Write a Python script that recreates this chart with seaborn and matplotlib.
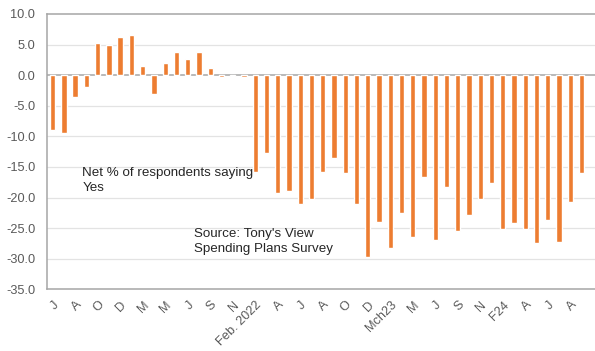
import matplotlib
matplotlib.use("Agg")
import matplotlib.pyplot as plt
import seaborn as sns
import pandas as pd

# Net % of respondents saying Yes, one value per survey period
net_yes = [
    -9.0, -9.4, -3.5, -2.0, 5.3, 5.0, 6.2, 6.5, 1.5, -3.0,
    2.0, 3.8, 2.7, 3.8, 1.1, -0.3, -0.2, -0.3, -15.8, -12.7,
    -19.3, -18.9, -21.0, -20.2, -15.8, -13.6, -16.0, -21.1, -29.7, -24.0,
    -28.3, -22.5, -26.4, -16.6, -27.0, -18.2, -25.5, -22.8, -20.3, -17.7,
    -25.1, -24.1, -25.1, -27.5, -23.7, -27.2, -20.7, -16.0,
]

# Labels shown under every second period
tick_labels = [
    "J", "A", "O", "D", "M", "M", "J", "S", "N", "Feb. 2022",
    "A", "J", "A", "O", "D", "Mch23", "M", "J", "S", "N",
    "F24", "A", "J", "A",
]

y_ticks = [10, 5, 0, -5, -10, -15, -20, -25, -30, -35]

df = pd.DataFrame({"period": list(range(len(net_yes))), "net": net_yes})

sns.set_style("white")
plt.rcParams["font.family"] = ["Liberation Sans", "DejaVu Sans"]

fig = plt.figure(figsize=(5.95, 3.51), dpi=100)
ax = fig.add_axes([47 / 595, 1 - 289.3 / 351, 1 - 47 / 595, (289.3 - 14) / 351])

sns.barplot(data=df, x="period", y="net", color="#ED7D31", saturation=1,
            width=0.47, ax=ax, zorder=3)

ax.set_ylim(-35, 10)
ax.set_xlim(-0.5, 48.2)
ax.set_yticks(y_ticks)
ax.set_yticklabels([f"{v:.1f}" for v in y_ticks])
ax.set_xticks(range(0, len(net_yes), 2))
ax.set_xticklabels(tick_labels, rotation=45, ha="right", rotation_mode="anchor")

ax.set_xlabel("")
ax.set_ylabel("")

ax.tick_params(axis="y", length=0, pad=8.5, labelsize=9.2, labelcolor="#595959")
ax.tick_params(axis="x", length=0, pad=7, labelsize=9.2, labelcolor="#595959")

# light horizontal gridlines, darker zero line
for v in y_ticks[1:-1]:
    if v == 0:
        continue
    ax.axhline(v, color="#E3E3E3", lw=0.9, zorder=1)
ax.axhline(0, color="#A6A6A6", lw=1.1, zorder=2)

for side in ["left", "bottom", "top"]:
    ax.spines[side].set_color("#A6A6A6")
    ax.spines[side].set_linewidth(1.1)
ax.spines["right"].set_visible(False)

ax.text(2.63, -15.0, "Net % of respondents saying\nYes", fontsize=9.6,
        color="#262626", va="top", ha="left", linespacing=1.35, zorder=4)
ax.text(12.58, -24.9, "Source: Tony's View\nSpending Plans Survey", fontsize=9.6,
        color="#262626", va="top", ha="left", linespacing=1.35, zorder=4)

fig.savefig("out.png", dpi=100)
